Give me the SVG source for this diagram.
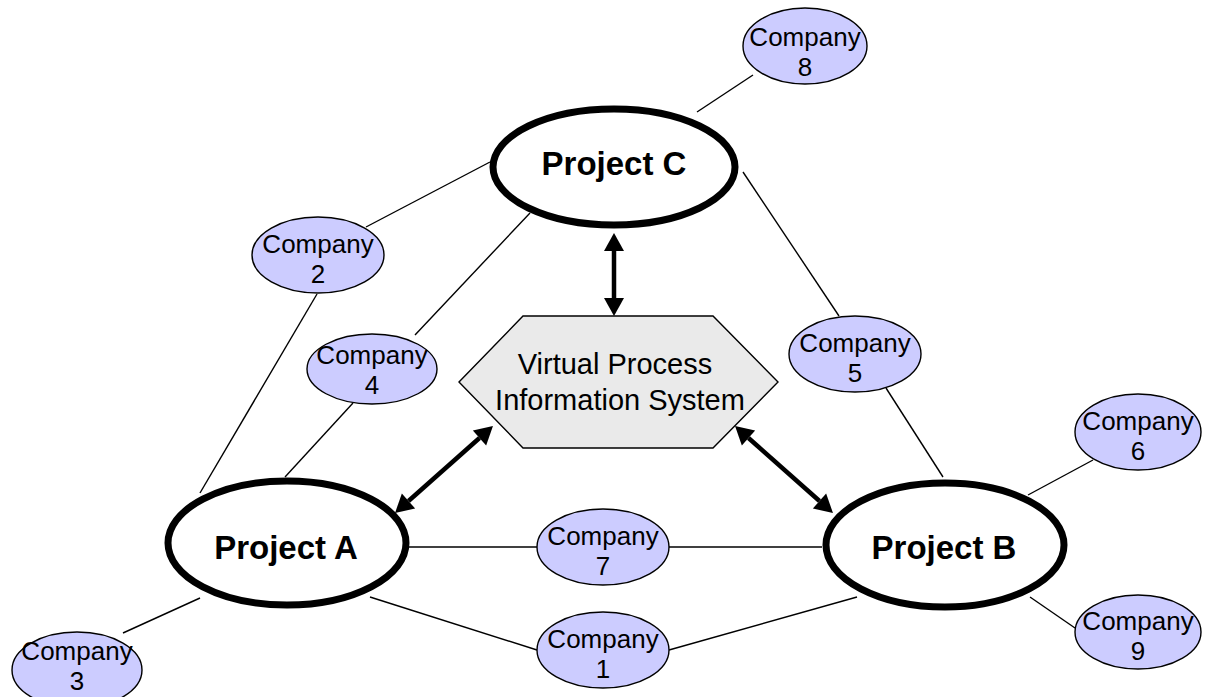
<svg xmlns="http://www.w3.org/2000/svg" width="1208" height="697" viewBox="0 0 1208 697">
<style>
.link{stroke:#000;stroke-width:1.4;fill:none}
.arr{stroke:#000;stroke-width:4.5;fill:none;marker-start:url(#ah);marker-end:url(#ah)}
.comp{fill:#ccccff;stroke:#000;stroke-width:1.4}
.proj{fill:#fff;stroke:#000;stroke-width:7}
.ct{font-family:"Liberation Sans",Arial,sans-serif;font-size:26px;text-anchor:middle;fill:#000}
.pt{font-family:"Liberation Sans",Arial,sans-serif;font-size:33px;font-weight:bold;text-anchor:middle;fill:#000}
.vt{font-family:"Liberation Sans",Arial,sans-serif;font-size:29px;text-anchor:middle;fill:#000}
</style>
<defs>
<marker id="ah" markerUnits="userSpaceOnUse" markerWidth="20" markerHeight="20" refX="0" refY="10" orient="auto-start-reverse" overflow="visible">
<path d="M0,0 L18,10 L0,20 z" fill="#000"/>
</marker>
</defs>
<rect width="1208" height="697" fill="#fff"/>
<g id="connectors">
<line class="link" x1="697" y1="112" x2="753" y2="75"/>
<line class="link" x1="490" y1="162" x2="366" y2="227"/>
<line class="link" x1="530" y1="213" x2="415" y2="335"/>
<line class="link" x1="743" y1="172" x2="839" y2="316"/>
<line class="link" x1="886" y1="388" x2="943" y2="477"/>
<line class="link" x1="317" y1="294" x2="200" y2="493"/>
<line class="link" x1="353" y1="403" x2="285" y2="477"/>
<line class="link" x1="409" y1="547" x2="537" y2="547"/>
<line class="link" x1="669" y1="547" x2="822" y2="547"/>
<line class="link" x1="370" y1="597" x2="537" y2="650"/>
<line class="link" x1="669" y1="650" x2="857" y2="597"/>
<line class="link" x1="1028" y1="495" x2="1093" y2="460"/>
<line class="link" x1="1030" y1="597" x2="1075" y2="628"/>
<line class="link" x1="200" y1="598" x2="123" y2="633"/>
<line class="arr" x1="614" y1="251" x2="614" y2="298"/>
<line class="arr" x1="408.5" y1="501" x2="479.5" y2="438"/>
<line class="arr" x1="748.5" y1="438" x2="819.5" y2="501"/>
</g>
<g id="vpis">
<polygon points="459,382 523,316 713,316 778,382 713,448 523,448" fill="#eaeaea" stroke="#000" stroke-width="1.4"/>
<text class="vt" x="615" y="374">Virtual Process</text>
<text class="vt" x="620" y="410">Information System</text>
</g>
<g id="projectA"><ellipse class="proj" cx="287" cy="543" rx="119" ry="62"/><text class="pt" x="286" y="559">Project A</text></g>
<g id="projectB"><ellipse class="proj" cx="945" cy="545" rx="119" ry="62"/><text class="pt" x="944" y="559">Project B</text></g>
<g id="projectC"><ellipse class="proj" cx="614" cy="167" rx="121" ry="58"/><text class="pt" x="614" y="175">Project C</text></g>
<g id="company1"><ellipse class="comp" cx="603" cy="650" rx="66" ry="38"/><text class="ct" x="603" y="648">Company</text><text class="ct" x="603" y="678">1</text></g>
<g id="company2"><ellipse class="comp" cx="318" cy="255" rx="66" ry="38"/><text class="ct" x="318" y="253">Company</text><text class="ct" x="318" y="283">2</text></g>
<g id="company3"><ellipse class="comp" cx="77" cy="670" rx="65" ry="38"/><text class="ct" x="77" y="660">Company</text><text class="ct" x="77" y="690">3</text></g>
<g id="company4"><ellipse class="comp" cx="372" cy="369" rx="65" ry="35"/><text class="ct" x="372" y="364">Company</text><text class="ct" x="372" y="394">4</text></g>
<g id="company5"><ellipse class="comp" cx="855" cy="354" rx="66" ry="38"/><text class="ct" x="855" y="352">Company</text><text class="ct" x="855" y="382">5</text></g>
<g id="company6"><ellipse class="comp" cx="1138" cy="432" rx="63" ry="38"/><text class="ct" x="1138" y="430">Company</text><text class="ct" x="1138" y="460">6</text></g>
<g id="company7"><ellipse class="comp" cx="603" cy="547" rx="66" ry="38"/><text class="ct" x="603" y="545">Company</text><text class="ct" x="603" y="575">7</text></g>
<g id="company8"><ellipse class="comp" cx="805" cy="46" rx="62" ry="38"/><text class="ct" x="805" y="46">Company</text><text class="ct" x="805" y="76">8</text></g>
<g id="company9"><ellipse class="comp" cx="1138" cy="632" rx="63" ry="37"/><text class="ct" x="1138" y="630">Company</text><text class="ct" x="1138" y="660">9</text></g>
</svg>
